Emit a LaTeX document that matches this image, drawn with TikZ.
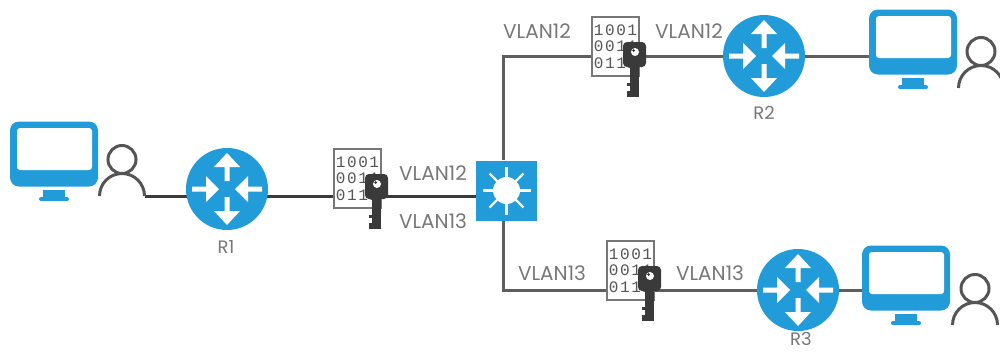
\documentclass[tikz,border=0pt]{standalone}
\usepackage{fontspec}
\setmainfont{Poppins}
\newfontfamily\bitsfont[LetterSpace=10]{Liberation Mono}
\usetikzlibrary{backgrounds}
\definecolor{ciscoblue}{HTML}{229CD8}
\definecolor{keygray}{HTML}{3A3A3A}
\definecolor{usergray}{HTML}{555555}
\definecolor{textgray}{HTML}{777777}
\definecolor{linegray}{HTML}{5E5E5E}
\tikzset{
  router/.style={draw=none,circle,fill=ciscoblue,minimum size=82pt,inner sep=0pt},
  switchbox/.style={rectangle,fill=ciscoblue,minimum width=61pt,minimum height=60pt,inner sep=0pt},
  databox/.style={draw=textgray,line width=1.3pt,fill=white,minimum width=47pt,minimum height=59pt,inner sep=0pt,
    align=center,text=usergray,font=\bitsfont\fontsize{16}{16.5}\selectfont},
  screenbox/.style={rectangle,rounded corners=9pt,fill=ciscoblue,minimum width=88pt,minimum height=65pt,inner sep=0pt},
  vlan/.style={text=textgray,font=\fontsize{20}{22}\selectfont,inner sep=0pt},
  rname/.style={text=textgray,font=\fontsize{18}{19}\selectfont,inner sep=0pt},
  link/.style={draw=linegray,line width=3pt},
  darklink/.style={draw=keygray,line width=3pt},
  routerarrows/.pic={
    \foreach \a in {0,180}
      \fill[white,rotate=\a] (0,-36) -- (13,-22) -- (2.5,-22) -- (2.5,-8) -- (-2.5,-8) -- (-2.5,-22) -- (-13,-22) -- cycle;
    \foreach \a in {90,270}
      \fill[white,rotate=\a] (0,-8) -- (13,-21) -- (2.5,-21) -- (2.5,-35) -- (-2.5,-35) -- (-2.5,-21) -- (-13,-21) -- cycle;
  },
  sunrays/.pic={
    \fill[white] (0,0) circle (13.5pt);
    \foreach \a in {0,45,...,315}
      \draw[white,line width=2.4pt] (\a:13) -- (\a:24);
  },
  keyshape/.pic={
    \fill[keygray,rounded corners=4pt] (-11.5,-12.5) rectangle (11.5,12.5);
    \fill[keygray] (-4.5,10) rectangle (4.5,42.5);
    \fill[keygray] (-8,28) rectangle (-4,31.5);
    \fill[keygray] (-8,36) rectangle (-4,42.5);
    \fill[white] (0.5,-2.5) circle (4pt);
    \fill[keygray] (-1,-4) circle (1.5pt);
  },
  userbody/.pic={
    \draw[usergray,line width=3pt] (0,-36.5) circle (14pt);
    \draw[usergray,line width=3pt] (-22.5,0) arc[start angle=180,end angle=0,radius=22.5pt];
  }
}
\begin{document}
\begin{tikzpicture}[x=1pt,y=-1pt]
  \useasboundingbox (0,0) rectangle (1000,351);
  \def \Routers{
    R1/227/189/226/247,
    R2/764/56/764/113,
    R3/798/290/801/339}
  \def \Screens{
    mon1/54/154/122/196,
    mon2/913/42/981/88,
    mon3/906/278/975/325}
  \def \Locks{
    box1/357.5/178.5/376.5/186.5/1001/0011/0111,
    box2/615.5/46.5/634.5/54.5/1001/0011/0111,
    box3/630.5/270.5/649.5/278.5/1001/0011/0111}
  % routers and their names
  \foreach \id / \x / \y / \lx / \ly in \Routers{
    \node[router] (\id) at (\x,\y) {};
    \pic at (\x,\y) {routerarrows};
    \node[rname] (\id name) at (\lx,\ly) {\id};
  }
  % monitors with their stand, users beside them
  \foreach \id / \x / \y / \ux / \uy in \Screens{
    \node[screenbox] (\id) at (\x,\y) {};
    \fill[white,rounded corners=3pt] (\x-37,\y-26) rectangle (\x+38,\y+16);
    \fill[ciscoblue] (\x-11,\y+36) -- (\x+11,\y+36) -- (\x+11,\y+43) -- (\x-11,\y+43) -- cycle;
    \fill[ciscoblue,rounded corners=2pt] (\x-15,\y+43) rectangle (\x+15,\y+47);
    \pic at (\ux,\uy) {userbody};
    \coordinate (\id user) at (\ux+22.5,\uy);
  }
  \node[switchbox] (sw) at (506.5,190.5) {};
  \pic at (506.5,190.5) {sunrays};
  % data boxes with the key on top
  \foreach \id / \x / \y / \kx / \ky / \a / \b / \c in \Locks{
    \node[databox] (\id) at (\x,\y) {\a\\\b\\\c};
    \pic at (\kx,\ky) {keyshape};
  }
  \node[vlan] (v1) at (433,173) {VLAN12};
  \node[vlan] (v2) at (433,221) {VLAN13};
  \node[vlan] (v3) at (537,31) {VLAN12};
  \node[vlan] (v4) at (689,31) {VLAN12};
  \node[vlan] (v5) at (552,273) {VLAN13};
  \node[vlan] (v6) at (710,273) {VLAN13};
  \begin{scope}[on background layer]
    \path[darklink] (mon1user) -- (sw.west |- mon1user);
    \path[link] ([xshift=-3.5pt]sw.north) |- (R2);
    \path[link] ([xshift=-3.5pt]sw.south) |- (R3);
    \path[link] (R2) -- (R2 -| mon2.west);
    \path[link] (R3) -- (R3 -| mon3.west);
  \end{scope}
\end{tikzpicture}
\end{document}
